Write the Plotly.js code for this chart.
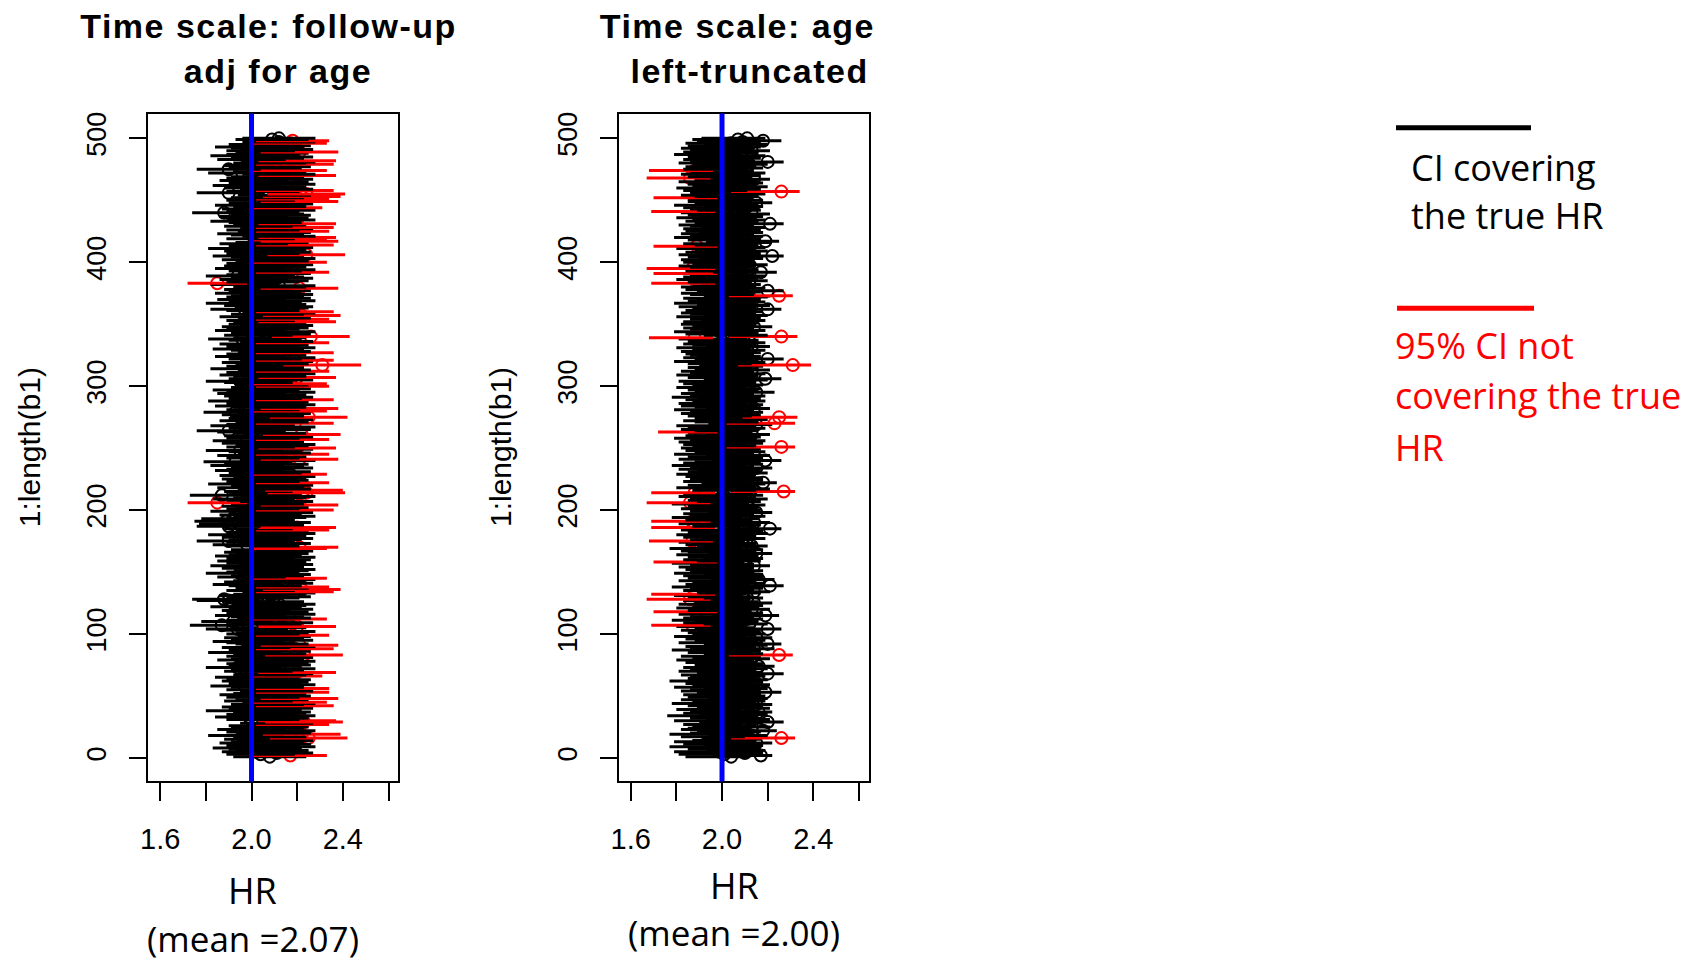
<!DOCTYPE html>
<html>
<head>
<meta charset="utf-8">
<script src="https://cdn.plot.ly/plotly-3.0.1.min.js"></script>
<style>
  html, body { margin: 0; padding: 0; background: #fff; }
  #chart { width: 1697px; height: 962px; }
  .annotation[data-index="0"] text, .annotation[data-index="1"] text,
  .annotation[data-index="2"] text, .annotation[data-index="3"] text { letter-spacing: 1.5px; }
</style>
</head>
<body>
<div id="chart"></div>
<script>
// ---------------- data ----------------
const TRUE_HR = 2.0;
const xTickVals = [1.6, 1.8, 2.0, 2.2, 2.4, 2.6];
const xTickText = ['1.6', '', '2.0', '', '2.4', ''];
const yTickVals = [0, 100, 200, 300, 400, 500];
const yTickText = ['0', '100', '200', '300', '400', '500'];

const titles1 = ['Time scale: follow-up', 'adj for age'];
const titles2 = ['Time scale: age', 'left-truncated'];
const yTitle = '1:length(b1)';
const xTitle = 'HR';
const meanLabels = ['(mean =2.07)', '(mean =2.00)'];
const legendBlack = ['CI covering', 'the true HR'];
const legendRed = ['95% CI not', 'covering the true', 'HR'];

// Panel 1: estimated HR (circle) per simulation, CI half-width
const hr1 = [
2.08,2.17,2.04,2.11,2.02,2.09,2.06,1.98,2.12,2.05,2.10,2.01,2.07,2.11,2.03,2.25,2.08,1.96,2.22,2.10,2.04,2.12,2.00,2.07,2.09,
2.06,2.18,2.11,2.23,2.20,2.05,2.09,1.99,2.12,2.04,2.08,2.10,1.95,2.06,2.11,2.02,2.19,2.07,2.12,2.17,2.03,2.09,2.21,2.05,2.10,
2.01,2.08,2.18,2.11,2.04,2.18,2.07,1.97,2.12,2.06,2.09,2.02,2.10,2.05,1.99,2.16,2.08,2.11,2.20,2.03,2.07,2.12,1.94,2.06,2.10,
2.04,2.09,2.12,2.00,2.07,2.11,2.05,2.23,2.08,1.96,2.10,2.06,2.19,2.02,2.12,2.21,2.09,2.04,1.98,2.11,2.07,2.03,2.10,2.18,2.05,
2.09,2.12,2.01,1.94,2.08,2.20,1.87,2.06,2.11,1.92,2.04,2.17,2.10,2.07,1.99,2.12,2.05,2.09,2.02,2.11,2.06,1.97,2.08,2.12,2.03,
2.07,1.90,1.88,2.05,2.10,2.01,2.08,2.12,2.19,2.04,2.22,2.09,2.18,2.06,1.98,2.11,2.03,2.08,2.12,2.17,2.00,2.07,2.10,1.95,2.05,
2.09,2.12,2.02,2.07,1.97,2.11,2.05,2.08,2.00,2.10,2.04,2.12,1.99,2.06,2.09,2.03,2.11,2.07,2.17,2.21,2.05,1.98,2.10,2.04,1.90,
2.06,2.11,2.02,2.08,1.96,2.12,2.05,2.09,2.18,2.03,2.20,1.90,2.07,1.91,2.10,1.89,2.04,1.92,2.08,2.12,2.01,2.06,2.11,1.97,2.19,
2.05,2.09,2.02,2.21,2.07,1.85,2.11,2.04,1.98,2.08,2.12,1.87,2.06,2.24,2.03,2.23,2.10,2.00,2.07,2.11,1.96,2.18,2.05,2.09,2.02,
2.08,2.12,2.01,2.17,2.06,2.10,1.99,2.04,2.11,2.07,1.97,2.09,2.03,1.93,2.12,2.21,2.05,2.08,2.00,2.18,2.10,2.06,1.95,2.11,2.20,
2.04,2.09,2.12,2.02,2.07,1.98,2.18,2.05,2.11,2.03,2.22,2.08,2.00,1.90,2.10,2.06,2.12,1.97,2.04,2.19,2.09,2.01,2.11,2.06,2.25,
2.07,2.02,2.10,1.93,2.17,2.05,2.21,2.08,1.99,2.12,2.04,2.09,1.96,2.19,2.06,2.11,2.03,2.08,2.00,2.12,2.05,1.98,2.10,2.07,2.18,
2.09,2.17,2.03,1.95,2.11,2.06,2.20,2.08,2.01,2.12,2.04,2.18,2.10,1.97,2.07,2.05,2.31,2.09,2.02,2.11,2.19,2.06,2.12,1.99,2.08,
2.04,2.19,2.10,2.07,1.98,2.12,2.05,2.09,2.01,2.18,2.11,2.06,1.96,2.08,2.26,2.03,2.10,2.07,2.12,1.99,2.05,2.09,2.02,2.11,2.06,
2.08,2.20,2.04,2.18,2.10,2.01,2.22,2.07,2.12,2.19,2.05,1.97,2.09,2.11,2.03,2.08,1.95,2.06,2.12,2.00,2.10,2.04,2.07,2.11,1.99,
2.06,2.10,2.03,2.21,2.08,2.12,1.97,1.85,2.05,2.09,2.01,2.11,2.07,1.94,2.04,2.10,2.18,2.06,2.12,1.99,2.08,2.03,2.11,2.05,2.17,
2.09,2.02,2.12,2.07,1.98,2.24,2.05,2.10,2.03,2.08,1.96,2.11,2.06,2.19,2.01,2.09,2.21,2.17,2.04,2.20,2.12,2.07,2.00,2.10,2.18,
2.05,2.11,2.19,2.03,2.08,2.20,2.06,1.97,2.12,2.04,2.09,2.01,2.10,2.07,1.88,2.05,2.12,2.02,2.16,2.08,1.99,2.11,2.06,2.21,2.04,
2.18,2.07,2.22,2.10,2.24,1.90,2.05,2.19,2.11,2.03,2.08,1.98,2.12,2.06,2.09,2.01,2.11,2.04,2.07,2.20,2.12,1.96,2.08,2.17,1.90,
2.06,2.10,2.03,2.19,2.08,2.12,2.20,2.00,2.07,2.11,1.97,2.05,2.09,2.21,2.04,2.11,2.07,1.99,2.10,2.06,2.17,2.12,2.18,2.09,2.12
];
const half1 = [
.16,.16,.15,.16,.15,.16,.16,.15,.16,.16,.16,.15,.16,.16,.15,.17,.16,.15,.17,.16,.15,.16,.15,.16,.16,
.16,.16,.16,.17,.17,.16,.16,.15,.16,.15,.16,.16,.15,.16,.16,.15,.17,.16,.16,.16,.15,.16,.17,.16,.16,
.15,.16,.16,.16,.15,.16,.16,.15,.16,.16,.16,.15,.16,.16,.15,.15,.16,.16,.17,.15,.16,.16,.14,.16,.16,
.15,.16,.16,.15,.16,.16,.16,.17,.16,.15,.16,.16,.17,.15,.16,.17,.16,.15,.15,.16,.16,.15,.16,.16,.16,
.16,.16,.15,.14,.16,.17,.14,.16,.16,.14,.15,.16,.16,.16,.15,.16,.16,.16,.15,.16,.16,.15,.16,.16,.15,
.16,.14,.14,.16,.16,.15,.16,.16,.17,.15,.17,.16,.16,.16,.15,.16,.15,.16,.16,.16,.15,.16,.16,.15,.16,
.16,.16,.15,.16,.15,.16,.16,.16,.15,.16,.15,.16,.15,.16,.16,.15,.16,.16,.16,.17,.16,.15,.16,.15,.14,
.16,.16,.15,.16,.15,.16,.16,.16,.16,.15,.17,.14,.16,.14,.16,.14,.15,.14,.16,.16,.15,.16,.16,.15,.17,
.16,.16,.15,.17,.16,.13,.16,.15,.15,.16,.16,.14,.16,.17,.15,.17,.16,.15,.16,.16,.15,.16,.16,.16,.15,
.16,.16,.15,.16,.16,.16,.15,.15,.16,.16,.15,.16,.15,.14,.16,.17,.16,.16,.15,.16,.16,.16,.15,.16,.17,
.15,.16,.16,.15,.16,.15,.16,.16,.16,.15,.17,.16,.15,.14,.16,.16,.16,.15,.15,.17,.16,.15,.16,.16,.17,
.16,.15,.16,.14,.16,.16,.17,.16,.15,.16,.15,.16,.15,.17,.16,.16,.15,.16,.15,.16,.16,.15,.16,.16,.16,
.16,.16,.15,.15,.16,.16,.17,.16,.15,.16,.15,.16,.16,.15,.16,.16,.17,.16,.15,.16,.17,.16,.16,.15,.16,
.15,.17,.16,.16,.15,.16,.16,.16,.15,.16,.16,.16,.15,.16,.17,.15,.16,.16,.16,.15,.16,.16,.15,.16,.16,
.16,.17,.15,.16,.16,.15,.17,.16,.16,.17,.16,.15,.16,.16,.15,.16,.15,.16,.16,.15,.16,.15,.16,.16,.15,
.16,.16,.15,.17,.16,.16,.15,.13,.16,.16,.15,.16,.16,.14,.15,.16,.16,.16,.16,.15,.16,.15,.16,.16,.16,
.16,.15,.16,.16,.15,.17,.16,.16,.15,.16,.15,.16,.16,.17,.15,.16,.17,.16,.15,.17,.16,.16,.15,.16,.16,
.16,.16,.17,.15,.16,.17,.16,.15,.16,.15,.16,.15,.16,.16,.14,.16,.16,.15,.15,.16,.15,.16,.16,.17,.15,
.16,.16,.17,.16,.17,.14,.16,.17,.16,.15,.16,.15,.16,.16,.16,.15,.16,.15,.16,.17,.16,.15,.16,.16,.14,
.16,.16,.15,.17,.16,.16,.17,.15,.16,.16,.15,.16,.16,.17,.15,.16,.16,.15,.16,.16,.16,.16,.16,.16,.16
];

// Panel 2: estimated HR (circle), CI midpoint and CI half-width
const hr2 = [
2.04,2.17,2.01,2.10,1.99,2.12,2.05,2.09,1.97,2.11,2.03,2.15,2.00,2.07,2.11,2.26,2.02,2.13,1.98,2.06,2.10,2.18,2.01,2.05,2.13,
2.08,2.02,2.10,2.20,1.99,2.13,2.05,2.08,1.96,2.12,2.03,2.16,2.06,2.00,2.13,2.09,2.04,2.15,1.99,2.07,2.11,2.02,2.14,2.05,2.12,
2.03,2.09,2.19,2.01,2.06,2.13,1.99,2.08,2.15,2.04,2.10,1.97,2.14,2.05,2.07,2.11,2.02,2.20,2.09,2.00,2.07,2.12,2.04,2.16,2.08,
2.10,2.04,2.07,2.00,2.13,2.08,2.02,2.25,2.11,2.05,2.09,1.98,2.14,2.06,2.03,2.12,2.20,2.01,2.08,2.11,2.04,2.15,1.99,2.07,2.12,
2.05,2.09,2.02,2.20,2.07,2.00,1.87,2.12,2.04,2.08,1.98,2.11,2.03,2.06,2.19,2.01,2.09,1.89,2.05,2.13,1.99,2.07,2.10,2.02,2.14,
2.08,2.03,1.86,2.11,2.05,2.00,1.88,2.09,2.14,2.02,2.06,2.10,1.98,2.21,2.04,2.12,2.07,2.01,2.16,2.05,2.09,2.03,2.11,1.99,2.06,
2.10,2.04,2.07,2.01,2.14,2.06,1.99,1.90,2.09,2.03,2.11,2.05,2.08,2.00,2.15,2.06,2.02,2.10,1.97,2.08,2.13,2.04,2.07,2.01,1.87,
2.06,2.11,2.03,2.08,2.00,2.12,2.05,2.09,2.02,2.21,1.88,2.07,2.10,2.01,2.14,1.87,2.04,2.08,1.99,2.11,2.06,2.03,2.15,2.05,2.09,
2.02,2.08,2.05,2.11,1.99,1.86,2.09,2.04,2.12,2.06,2.01,2.10,2.03,1.88,2.27,2.07,2.13,2.00,2.08,2.05,2.11,2.18,2.03,2.09,2.06,
2.10,2.04,2.07,2.00,2.12,2.05,2.09,2.02,2.15,2.06,1.98,2.11,2.03,2.08,2.19,2.01,2.10,2.05,2.14,1.99,2.07,2.11,2.04,2.09,2.02,
2.26,2.07,2.03,2.10,2.01,2.12,2.06,1.99,2.09,2.04,2.13,2.05,1.91,2.08,2.02,2.11,2.06,2.00,2.15,2.23,2.08,2.03,2.12,2.07,2.25,
2.05,2.09,2.02,2.11,2.06,1.99,2.14,2.08,2.03,2.10,2.01,2.07,2.12,2.04,2.09,1.98,2.11,2.06,2.02,2.15,2.08,2.05,2.10,2.00,2.07,
2.10,2.03,2.07,2.01,2.12,2.19,2.05,2.09,2.00,2.11,2.06,2.02,2.13,2.08,2.04,2.10,2.31,2.05,2.11,1.99,2.08,2.20,2.03,2.09,2.06,
2.04,2.09,2.02,2.11,2.06,2.00,2.13,2.07,2.03,2.10,2.05,2.08,2.01,1.88,2.26,2.12,2.04,2.09,1.99,2.11,2.06,2.03,2.14,2.07,2.02,
2.08,2.03,2.11,2.05,2.09,2.00,2.12,2.06,2.02,2.10,2.04,2.20,2.07,2.01,2.13,2.08,1.99,2.11,2.05,2.09,2.03,2.12,2.25,2.06,2.02,
2.09,2.20,2.04,2.11,2.02,2.07,2.10,1.89,2.05,2.12,2.00,2.08,2.03,2.11,2.06,1.90,2.17,2.04,2.09,1.87,2.06,2.01,2.12,2.07,2.03,
2.06,2.02,2.10,2.05,2.22,2.01,2.09,2.04,2.12,2.07,2.00,2.11,1.89,2.08,2.03,2.13,2.19,2.05,2.09,1.99,2.11,2.06,2.02,2.10,2.04,
2.09,2.03,2.11,2.06,2.01,2.21,2.08,2.04,2.12,2.07,2.00,2.10,2.05,2.13,2.02,1.89,2.09,2.06,2.03,2.11,1.99,2.08,2.15,2.05,2.10,
2.05,1.90,2.08,2.02,2.11,2.06,2.26,2.03,2.09,2.00,2.12,2.07,2.04,2.10,2.01,2.08,2.14,1.86,2.05,2.09,2.02,2.11,2.06,1.88,2.03,
2.10,2.04,2.07,2.12,2.01,2.20,2.06,2.03,2.09,2.05,2.11,1.99,2.08,2.03,2.13,2.06,2.02,2.10,2.05,2.12,2.04,2.09,2.18,2.07,2.11
];
const mid2 = [
1.98,2.09,1.95,2.03,1.93,2.06,1.99,2.02,1.91,2.05,1.97,2.08,1.94,2.01,2.04,2.18,1.96,2.07,1.92,2.00,2.03,2.10,1.95,1.99,2.06,
2.01,1.96,2.04,2.12,1.93,2.07,1.99,2.02,1.90,2.05,1.97,2.09,2.00,1.94,2.06,2.03,1.98,2.08,1.92,2.01,2.04,1.96,2.07,1.99,2.05,
1.97,2.03,2.11,1.95,2.00,2.06,1.93,2.02,2.08,1.98,2.04,1.91,2.07,1.99,2.01,2.05,1.96,2.12,2.03,1.94,2.00,2.06,1.98,2.09,2.02,
2.04,1.98,2.01,1.94,2.07,2.02,1.96,2.17,2.05,1.99,2.03,1.92,2.08,2.00,1.97,2.06,2.12,1.95,2.02,2.04,1.98,2.09,1.93,2.01,2.05,
1.99,2.03,1.96,2.12,2.01,1.94,1.82,2.06,1.98,2.02,1.92,2.05,1.97,2.00,2.11,1.95,2.03,1.84,1.99,2.07,1.93,2.01,2.04,1.96,2.08,
2.02,1.97,1.81,2.05,1.99,1.94,1.83,2.03,2.07,1.96,2.00,2.04,1.92,2.12,1.98,2.06,2.01,1.95,2.09,1.99,2.03,1.97,2.05,1.93,2.00,
2.04,1.98,2.01,1.95,2.07,2.00,1.93,1.84,2.03,1.97,2.05,1.99,2.02,1.94,2.08,2.00,1.96,2.04,1.91,2.02,2.06,1.98,2.01,1.95,1.82,
2.00,2.05,1.97,2.02,1.94,2.06,1.99,2.03,1.96,2.12,1.83,2.01,2.04,1.95,2.07,1.82,1.98,2.02,1.93,2.05,2.00,1.97,2.08,1.99,2.03,
1.96,2.02,1.99,2.05,1.93,1.81,2.03,1.98,2.06,2.00,1.95,2.04,1.97,1.83,2.18,2.01,2.07,1.94,2.02,1.99,2.05,2.10,1.97,2.03,2.00,
2.04,1.98,2.01,1.94,2.06,1.99,2.03,1.96,2.08,2.00,1.92,2.05,1.97,2.02,2.11,1.95,2.04,1.99,2.07,1.93,2.01,2.05,1.98,2.03,1.96,
2.17,2.01,1.97,2.04,1.95,2.06,2.00,1.93,2.03,1.98,2.07,1.99,1.85,2.02,1.96,2.05,2.00,1.94,2.08,2.17,2.02,1.97,2.06,2.01,2.21,
1.99,2.03,1.96,2.05,2.00,1.93,2.07,2.02,1.97,2.04,1.95,2.01,2.06,1.98,2.03,1.92,2.05,2.00,1.96,2.08,2.02,1.99,2.04,1.94,2.01,
2.04,1.97,2.01,1.95,2.06,2.11,1.99,2.03,1.94,2.05,2.00,1.96,2.07,2.02,1.98,2.04,2.23,1.99,2.05,1.93,2.02,2.12,1.97,2.03,2.00,
1.98,2.03,1.96,2.05,2.00,1.94,2.07,2.01,1.97,2.04,1.99,2.02,1.95,1.82,2.18,2.06,1.98,2.03,1.93,2.05,2.00,1.97,2.08,2.01,1.96,
2.02,1.97,2.05,1.99,2.03,1.94,2.06,2.00,1.96,2.04,1.98,2.11,2.01,1.95,2.07,2.02,1.93,2.05,1.99,2.03,1.97,2.06,2.17,2.00,1.96,
2.03,2.12,1.98,2.05,1.96,2.01,2.04,1.83,1.99,2.06,1.94,2.02,1.97,2.05,2.00,1.84,2.10,1.98,2.03,1.82,2.00,1.95,2.06,2.01,1.97,
2.00,1.96,2.04,1.99,2.12,1.95,2.03,1.98,2.06,2.01,1.94,2.05,1.84,2.02,1.97,2.07,2.11,1.99,2.03,1.93,2.05,2.00,1.96,2.04,1.98,
2.03,1.97,2.05,2.00,1.95,2.12,2.02,1.98,2.06,2.01,1.94,2.04,1.99,2.07,1.96,1.83,2.03,2.00,1.97,2.05,1.93,2.02,2.08,1.99,2.04,
1.99,1.84,2.02,1.96,2.05,2.00,2.19,1.97,2.03,1.94,2.06,2.01,1.98,2.04,1.95,2.02,2.07,1.81,1.99,2.03,1.96,2.05,2.00,1.82,1.97,
2.04,1.98,2.01,2.06,1.95,2.12,2.00,1.97,2.03,1.99,2.05,1.93,2.02,1.97,2.07,2.00,1.96,2.04,1.99,2.06,1.98,2.03,2.11,2.01,2.05
];
const half2 = [
.14,.13,.14,.15,.14,.13,.14,.15,.14,.13,.14,.14,.15,.14,.13,.14,.14,.13,.15,.14,.14,.14,.13,.14,.15,
.14,.13,.14,.15,.14,.14,.13,.14,.14,.15,.14,.13,.14,.14,.15,.14,.13,.14,.14,.14,.15,.14,.13,.14,.14,
.14,.14,.15,.13,.14,.14,.14,.15,.13,.14,.14,.14,.13,.14,.15,.14,.14,.15,.14,.13,.14,.14,.15,.14,.14,
.14,.14,.13,.14,.14,.15,.14,.14,.13,.14,.14,.14,.15,.14,.13,.14,.14,.14,.14,.15,.14,.13,.14,.14,.14,
.14,.14,.14,.14,.13,.14,.13,.14,.15,.14,.14,.13,.14,.14,.14,.14,.15,.14,.14,.14,.13,.14,.14,.15,.14,
.14,.14,.14,.13,.14,.15,.14,.14,.14,.13,.14,.14,.14,.15,.14,.13,.14,.14,.14,.14,.15,.14,.13,.14,.14,
.14,.14,.13,.14,.14,.14,.15,.14,.14,.14,.13,.14,.14,.14,.14,.15,.14,.14,.14,.13,.14,.14,.14,.14,.14,
.14,.14,.14,.13,.14,.14,.14,.15,.14,.14,.14,.14,.13,.14,.14,.13,.14,.14,.15,.14,.14,.14,.14,.13,.14,
.14,.14,.14,.14,.15,.14,.14,.13,.14,.14,.14,.14,.14,.14,.14,.14,.14,.14,.13,.14,.14,.14,.14,.15,.14,
.14,.14,.13,.14,.14,.14,.14,.15,.14,.14,.14,.13,.14,.14,.15,.14,.14,.14,.14,.14,.13,.14,.14,.14,.14,
.15,.14,.14,.14,.14,.13,.14,.14,.14,.14,.14,.14,.13,.14,.14,.14,.15,.14,.14,.15,.14,.14,.14,.13,.12,
.14,.14,.14,.13,.14,.14,.14,.14,.15,.14,.14,.14,.13,.14,.14,.14,.14,.14,.14,.15,.14,.14,.13,.14,.14,
.14,.14,.14,.14,.14,.15,.14,.13,.14,.14,.14,.14,.14,.14,.13,.14,.16,.14,.14,.14,.14,.15,.14,.14,.14,
.14,.14,.14,.14,.13,.14,.14,.14,.14,.15,.14,.14,.14,.14,.15,.14,.14,.13,.14,.14,.14,.14,.14,.14,.14,
.14,.14,.14,.13,.14,.14,.14,.14,.14,.14,.14,.15,.14,.14,.14,.13,.14,.14,.14,.14,.14,.14,.14,.14,.14,
.14,.15,.14,.14,.14,.14,.13,.14,.14,.14,.14,.14,.14,.14,.14,.14,.14,.14,.13,.15,.14,.14,.14,.14,.14,
.14,.14,.14,.14,.15,.14,.14,.14,.14,.13,.14,.14,.14,.14,.14,.14,.14,.14,.14,.14,.13,.14,.14,.14,.14,
.14,.14,.14,.14,.14,.15,.14,.14,.13,.14,.14,.14,.14,.14,.14,.14,.14,.14,.14,.13,.14,.14,.14,.14,.14,
.14,.14,.14,.14,.14,.14,.15,.14,.14,.14,.14,.14,.13,.14,.14,.14,.14,.14,.14,.14,.14,.14,.14,.14,.14,
.14,.14,.14,.14,.14,.15,.14,.14,.14,.14,.14,.14,.14,.14,.14,.14,.14,.13,.14,.14,.14,.14,.15,.14,.14
];

// ---------------- styles ----------------
const BLACK = '#000000';
const RED = '#FF0000';
const BLUE = '#0000FF';
const W = 1697, H = 962;
const px = v => v / W;
const py = v => 1 - v / H;
const TICK_FONT = 'Liberation Sans, Arial, Helvetica, sans-serif';
const TEXT_FONT = 'Open Sans, Noto Sans, sans-serif';

const traces = [];
function addPanel(hr, lo, hi, xa, ya) {
  const idx = hr.map((_, i) => i + 1);
  const covered = lo.map((l, i) => l <= TRUE_HR && hi[i] >= TRUE_HR);
  traces.push({
    type: 'scatter', mode: 'markers', x: hr, y: idx, xaxis: xa, yaxis: ya,
    marker: { symbol: 'circle-open', size: 12, color: covered.map(c => c ? BLACK : RED), line: { width: 2 } },
    hoverinfo: 'skip', showlegend: false
  });
  let i = 0;
  while (i < idx.length) {
    const c = covered[i];
    const xs = [], ys = [];
    while (i < idx.length && covered[i] === c) {
      xs.push(lo[i], hi[i], null);
      ys.push(idx[i], idx[i], null);
      i++;
    }
    traces.push({
      type: 'scatter', mode: 'lines', x: xs, y: ys, xaxis: xa, yaxis: ya,
      line: { color: c ? BLACK : RED, width: 3 }, connectgaps: false,
      hoverinfo: 'skip', showlegend: false
    });
  }
}
addPanel(hr1, hr1.map((v, i) => v - half1[i]), hr1.map((v, i) => v + half1[i]), 'x', 'y');
addPanel(hr2, mid2.map((v, i) => v - half2[i]), mid2.map((v, i) => v + half2[i]), 'x2', 'y2');

const yDomain = [py(781.4), py(113.6)];
function xAxis(domain, anchor) {
  return {
    domain: domain, anchor: anchor, range: [1.5466, 2.6416],
    tickmode: 'array', tickvals: xTickVals, ticktext: xTickText,
    ticks: 'outside', ticklen: 18, tickwidth: 2, tickcolor: BLACK,
    showline: true, linewidth: 2, linecolor: BLACK, mirror: true,
    showgrid: false, zeroline: false, ticklabelstandoff: 13,
    tickfont: { family: TICK_FONT, size: 29, color: BLACK }
  };
}
function yAxis(anchor) {
  return {
    domain: yDomain, anchor: anchor, range: [-18.96, 519.96],
    tickmode: 'array', tickvals: yTickVals, ticktext: yTickText, tickangle: -90,
    ticks: 'outside', ticklen: 17, tickwidth: 2, tickcolor: BLACK,
    showline: true, linewidth: 2, linecolor: BLACK, mirror: true,
    showgrid: false, zeroline: false, ticklabelstandoff: 12,
    tickfont: { family: TICK_FONT, size: 27, color: BLACK }
  };
}

function ann(text, x, y, font, extra) {
  return Object.assign({ text: text, x: px(x), y: py(y), xref: 'paper', yref: 'paper',
    xanchor: 'center', yanchor: 'middle', showarrow: false, font: font }, extra || {});
}
const titleFont = { family: TICK_FONT, size: 34, color: BLACK, weight: 'bold' };
const yTitleFont = { family: TICK_FONT, size: 30, color: BLACK };
const textFontB = { family: TEXT_FONT, size: 36, color: BLACK };
const textFontR = { family: TEXT_FONT, size: 36, color: RED };

const annotations = [
  ann(titles1[0], 268, 26, titleFont),
  ann(titles1[1], 278, 71, titleFont),
  ann(titles2[0], 737.6, 26, titleFont),
  ann(titles2[1], 749, 71, titleFont),
  ann(yTitle, 29.2, 447, yTitleFont, { textangle: -90 }),
  ann(yTitle, 500, 447, yTitleFont, { textangle: -90 }),
  ann(xTitle, 252.7, 890.7, textFontB),
  ann(meanLabels[0], 253.3, 938, { family: TEXT_FONT, size: 35, color: BLACK }),
  ann(xTitle, 734.3, 885.3, textFontB),
  ann(meanLabels[1], 733.8, 932, { family: TEXT_FONT, size: 35, color: BLACK }),
  ann(legendBlack[0], 1409, 167.5, textFontB, { xanchor: 'left' }),
  ann(legendBlack[1], 1409, 215.8, textFontB, { xanchor: 'left' }),
  ann(legendRed[0], 1393, 345.8, textFontR, { xanchor: 'left' }),
  ann(legendRed[1], 1393, 395.8, textFontR, { xanchor: 'left' }),
  ann(legendRed[2], 1393, 447.5, textFontR, { xanchor: 'left' })
];

const shapes = [
  { type: 'line', xref: 'x', yref: 'y domain', x0: TRUE_HR, x1: TRUE_HR, y0: 0, y1: 1, line: { color: BLUE, width: 5 }, layer: 'above' },
  { type: 'line', xref: 'x2', yref: 'y2 domain', x0: TRUE_HR, x1: TRUE_HR, y0: 0, y1: 1, line: { color: BLUE, width: 5 }, layer: 'above' },
  { type: 'line', xref: 'paper', yref: 'paper', x0: px(1396), x1: px(1531), y0: py(127.7), y1: py(127.7), line: { color: BLACK, width: 5 } },
  { type: 'line', xref: 'paper', yref: 'paper', x0: px(1397), x1: px(1534), y0: py(308.3), y1: py(308.3), line: { color: RED, width: 5 } }
];

const layout = {
  width: W, height: H,
  margin: { l: 0, r: 0, t: 0, b: 0 },
  paper_bgcolor: '#ffffff', plot_bgcolor: '#ffffff',
  showlegend: false,
  xaxis: xAxis([px(148), px(398)], 'y'),
  yaxis: yAxis('x'),
  xaxis2: xAxis([px(618.5), px(868.5)], 'y2'),
  yaxis2: yAxis('x2'),
  annotations: annotations,
  shapes: shapes
};

Plotly.newPlot('chart', traces, layout, { staticPlot: true, displayModeBar: false });
</script>
</body>
</html>
